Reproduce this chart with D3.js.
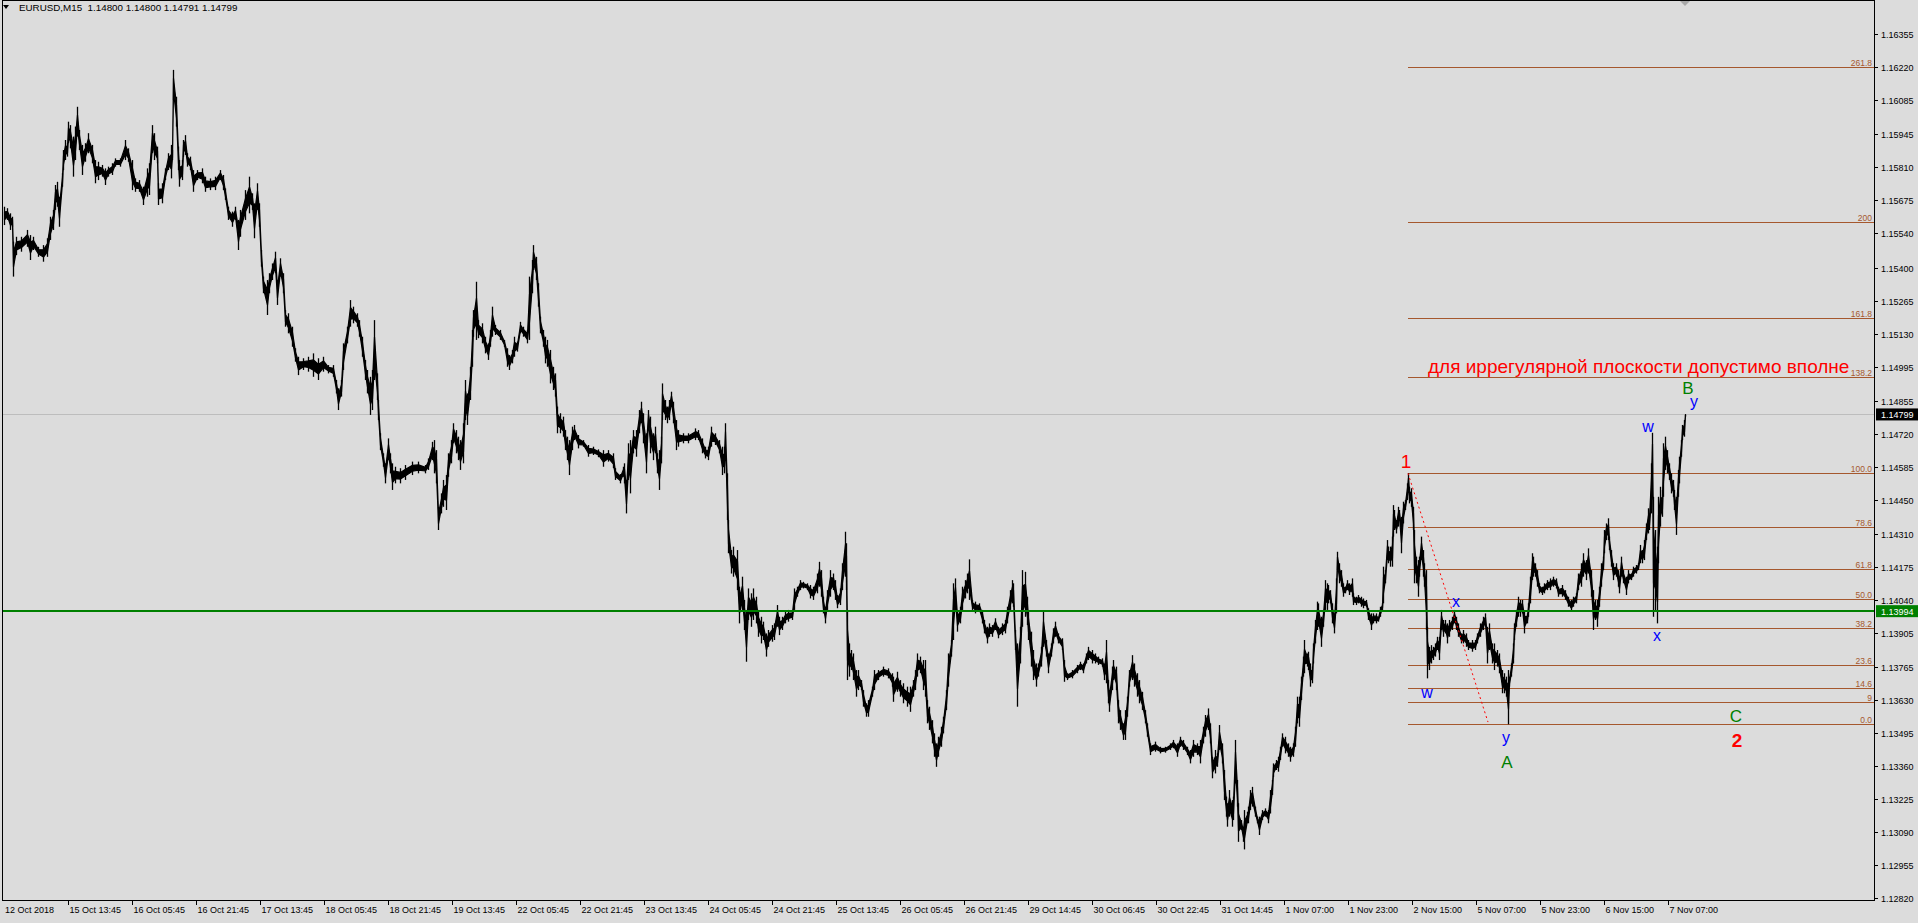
<!DOCTYPE html>
<html><head><meta charset="utf-8">
<script src="https://cdn.jsdelivr.net/npm/d3@7/dist/d3.min.js"></script>
<style>html,body{margin:0;padding:0;background:#DCDCDC;overflow:hidden}svg{display:block}text{font-family:"Liberation Sans",Arial,sans-serif}</style>
</head><body>
<svg id="c" width="1918" height="923"></svg>
<script>
// ---- data (EURUSD M15, sampled bars: bar index, high, low) ----
const barIndex=[0,3,6,8,9,12,17,23,26,29,34,39,43,46,49,51,53,55,58,59,61,63,64,66,69,71,73,75,78,81,84,88,91,94,98,101,104,108,111,116,121,124,128,131,135,139,143,145,148,150,153,154,158,161,164,167,168,169,172,174,175,178,179,181,183,186,189,193,198,201,206,211,216,219,221,224,228,231,234,236,241,245,248,250,253,255,257,259,263,265,268,271,273,276,279,281,284,288,291,294,299,304,309,314,319,324,329,332,334,337,339,343,346,349,353,355,358,361,363,366,368,370,373,374,376,379,381,384,386,388,391,396,401,408,414,421,424,428,430,432,434,437,439,442,444,447,449,452,454,456,459,461,463,466,468,469,472,474,478,481,484,486,488,491,496,500,503,505,508,510,513,516,519,523,525,528,529,532,534,536,539,541,543,546,549,551,553,556,559,561,563,565,568,570,574,579,584,589,594,599,604,609,611,616,619,620,622,624,626,629,632,635,637,639,642,644,646,649,651,653,655,657,658,661,663,665,667,669,672,674,679,684,691,694,698,701,704,707,711,715,718,720,721,723,724,727,729,733,735,738,740,742,744,747,749,752,754,757,759,762,764,768,770,773,775,778,781,784,788,790,793,796,799,803,806,809,813,815,817,819,821,823,826,829,831,833,836,838,841,842,843,845,847,849,852,854,857,859,862,864,868,870,874,879,884,888,889,893,896,899,903,906,909,911,913,916,919,921,923,925,928,930,932,934,937,939,942,944,947,949,951,953,956,958,961,963,965,968,971,975,978,980,983,985,988,991,994,998,1001,1003,1006,1008,1009,1011,1013,1016,1018,1021,1023,1024,1027,1029,1032,1034,1037,1039,1042,1044,1047,1049,1051,1054,1058,1060,1063,1068,1073,1076,1079,1082,1084,1088,1091,1094,1098,1100,1102,1104,1105,1108,1109,1112,1114,1116,1119,1121,1123,1125,1128,1130,1133,1135,1138,1141,1143,1146,1151,1156,1161,1166,1169,1173,1176,1179,1183,1186,1189,1193,1196,1199,1201,1204,1206,1208,1211,1213,1215,1218,1220,1222,1223,1225,1228,1229,1231,1233,1234,1237,1239,1240,1243,1244,1246,1248,1251,1253,1255,1258,1261,1264,1266,1268,1269,1272,1274,1276,1278,1281,1284,1286,1289,1291,1293,1295,1297,1299,1300,1303,1304,1306,1308,1309,1311,1313,1314,1317,1319,1321,1323,1324,1326,1328,1330,1332,1333,1335,1337,1339,1341,1343,1345,1348,1349,1352,1354,1357,1359,1362,1364,1367,1369,1372,1374,1376,1378,1379,1381,1383,1384,1386,1388,1389,1390,1392,1394,1395,1397,1399,1401,1403,1404,1405,1407,1409,1410,1412,1414,1415,1417,1419,1420,1422,1423,1425,1427,1429,1431,1433,1435,1437,1439,1441,1443,1445,1448,1450,1452,1454,1457,1459,1462,1464,1468,1471,1473,1476,1479,1481,1483,1485,1488,1490,1493,1495,1498,1500,1502,1504,1505,1507,1509,1510,1512,1514,1516,1518,1520,1523,1524,1526,1528,1529,1531,1533,1535,1538,1540,1543,1546,1549,1552,1554,1558,1561,1564,1567,1569,1572,1574,1577,1579,1582,1584,1587,1589,1591,1593,1595,1597,1599,1600,1602,1604,1605,1607,1609,1612,1614,1615,1617,1619,1622,1624,1627,1629,1632,1634,1636,1638,1640,1642,1644,1645,1647,1648,1649,1651,1653,1654,1656,1658,1659,1661,1663,1665,1667,1669,1670,1672,1674,1675,1677,1678,1680,1681];
const barHigh=[1.15649,1.15643,1.15622,1.15608,1.15506,1.15526,1.15526,1.15554,1.15533,1.15526,1.15485,1.15492,1.15520,1.15608,1.15636,1.15738,1.15751,1.15690,1.15786,1.15881,1.15922,1.15909,1.15997,1.15983,1.15936,1.15977,1.16058,1.15963,1.15902,1.15909,1.15950,1.15902,1.15840,1.15833,1.15820,1.15806,1.15813,1.15827,1.15847,1.15847,1.15922,1.15888,1.15840,1.15765,1.15758,1.15731,1.15806,1.15827,1.15983,1.15950,1.15895,1.15745,1.15745,1.15806,1.15868,1.15902,1.15881,1.16209,1.16099,1.15895,1.15840,1.15840,1.15922,1.15942,1.15868,1.15854,1.15799,1.15799,1.15806,1.15772,1.15765,1.15772,1.15799,1.15779,1.15724,1.15649,1.15629,1.15649,1.15595,1.15636,1.15717,1.15772,1.15704,1.15663,1.15745,1.15663,1.15472,1.15363,1.15349,1.15377,1.15417,1.15465,1.15349,1.15438,1.15377,1.15226,1.15213,1.15158,1.15070,1.15035,1.15029,1.15035,1.15049,1.15029,1.15035,1.15001,1.15001,1.14940,1.14906,1.14940,1.15090,1.15158,1.15267,1.15240,1.15213,1.15185,1.15117,1.15022,1.14981,1.14953,1.14981,1.15185,1.14967,1.14858,1.14722,1.14640,1.14599,1.14701,1.14640,1.14599,1.14585,1.14579,1.14592,1.14606,1.14606,1.14592,1.14619,1.14687,1.14694,1.14653,1.14421,1.14476,1.14531,1.14551,1.14640,1.14694,1.14763,1.14735,1.14708,1.14694,1.14763,1.14940,1.14885,1.14994,1.15145,1.15226,1.15342,1.15185,1.15172,1.15117,1.15090,1.15145,1.15240,1.15165,1.15145,1.15104,1.15070,1.15042,1.15063,1.15117,1.15097,1.15178,1.15158,1.15145,1.15363,1.15431,1.15492,1.15444,1.15336,1.15199,1.15145,1.15117,1.15104,1.15063,1.14994,1.14967,1.14831,1.14804,1.14790,1.14735,1.14708,1.14694,1.14749,1.14756,1.14715,1.14694,1.14674,1.14667,1.14656,1.14653,1.14653,1.14640,1.14579,1.14555,1.14585,1.14599,1.14531,1.14681,1.14694,1.14735,1.14735,1.14817,1.14851,1.14804,1.14722,1.14817,1.14790,1.14722,1.14749,1.14640,1.14653,1.14708,1.14926,1.14858,1.14831,1.14858,1.14892,1.14851,1.14776,1.14735,1.14722,1.14722,1.14742,1.14735,1.14701,1.14667,1.14667,1.14749,1.14722,1.14694,1.14667,1.14667,1.14763,1.14558,1.14367,1.14244,1.14258,1.14244,1.14094,1.14135,1.14040,1.13999,1.14087,1.14067,1.14087,1.14053,1.13999,1.13971,1.13951,1.13903,1.13917,1.13937,1.13944,1.14019,1.13971,1.13971,1.13992,1.13999,1.13999,1.14087,1.14094,1.14121,1.14114,1.14108,1.14101,1.14094,1.14148,1.14196,1.14162,1.14053,1.14012,1.14080,1.14162,1.14148,1.14121,1.14060,1.14087,1.14190,1.14319,1.14272,1.13999,1.13862,1.13835,1.13821,1.13753,1.13753,1.13712,1.13671,1.13617,1.13630,1.13685,1.13753,1.13753,1.13767,1.13760,1.13740,1.13726,1.13746,1.13712,1.13699,1.13685,1.13685,1.13712,1.13753,1.13821,1.13808,1.13794,1.13794,1.13630,1.13603,1.13548,1.13494,1.13453,1.13480,1.13521,1.13562,1.13671,1.13821,1.13876,1.14108,1.14128,1.13999,1.14012,1.14094,1.14121,1.14148,1.14206,1.14040,1.14033,1.14026,1.13999,1.13958,1.13930,1.13944,1.13937,1.13965,1.13930,1.13944,1.13958,1.14012,1.14080,1.14121,1.14108,1.13917,1.13862,1.13930,1.14162,1.14155,1.14053,1.13999,1.13910,1.13835,1.13780,1.13780,1.13848,1.13992,1.13876,1.13821,1.13862,1.13924,1.13951,1.13903,1.13883,1.13794,1.13740,1.13753,1.13774,1.13787,1.13780,1.13821,1.13848,1.13835,1.13821,1.13808,1.13801,1.13780,1.13876,1.13712,1.13671,1.13767,1.13794,1.13767,1.13630,1.13589,1.13535,1.13589,1.13644,1.13753,1.13814,1.13780,1.13740,1.13712,1.13664,1.13589,1.13535,1.13453,1.13460,1.13439,1.13439,1.13453,1.13467,1.13453,1.13480,1.13467,1.13439,1.13426,1.13467,1.13453,1.13467,1.13521,1.13569,1.13596,1.13535,1.13398,1.13426,1.13412,1.13528,1.13453,1.13344,1.13235,1.13208,1.13262,1.13221,1.13235,1.13467,1.13303,1.13208,1.13139,1.13112,1.13180,1.13173,1.13194,1.13262,1.13275,1.13194,1.13153,1.13153,1.13180,1.13187,1.13180,1.13262,1.13303,1.13371,1.13385,1.13398,1.13439,1.13494,1.13480,1.13453,1.13439,1.13453,1.13521,1.13644,1.13644,1.13726,1.13808,1.13876,1.13821,1.13828,1.13780,1.13767,1.13862,1.13958,1.14033,1.14026,1.13971,1.13999,1.14121,1.14108,1.14101,1.14080,1.14026,1.13985,1.14128,1.14237,1.14190,1.14162,1.14108,1.14094,1.14121,1.14108,1.14128,1.14067,1.14053,1.14060,1.14053,1.14046,1.14040,1.14006,1.13985,1.13985,1.13985,1.13971,1.14012,1.14026,1.14176,1.14162,1.14285,1.14258,1.14258,1.14299,1.14428,1.14408,1.14367,1.14421,1.14408,1.14380,1.14442,1.14449,1.14517,1.14558,1.14503,1.14497,1.14421,1.14326,1.14217,1.14203,1.14217,1.14299,1.14244,1.14190,1.14162,1.13930,1.13848,1.13855,1.13848,1.13862,1.13889,1.13889,1.13999,1.13958,1.13958,1.13944,1.13958,1.13971,1.13999,1.13971,1.13944,1.13903,1.13917,1.13903,1.13876,1.13876,1.13876,1.13903,1.13944,1.13971,1.13985,1.13930,1.13944,1.13862,1.13862,1.13835,1.13821,1.13753,1.13740,1.13726,1.13753,1.13726,1.13780,1.13862,1.13944,1.13999,1.14053,1.14040,1.14040,1.13999,1.13985,1.14026,1.14135,1.14231,1.14217,1.14190,1.14162,1.14108,1.14094,1.14108,1.14121,1.14128,1.14135,1.14128,1.14094,1.14101,1.14080,1.14053,1.14040,1.14053,1.14067,1.14148,1.14190,1.14231,1.14203,1.14251,1.14162,1.14080,1.14040,1.14040,1.14094,1.14190,1.14217,1.14326,1.14353,1.14374,1.14299,1.14244,1.14190,1.14190,1.14162,1.14135,1.14217,1.14162,1.14135,1.14162,1.14148,1.14176,1.14183,1.14190,1.14265,1.14244,1.14285,1.14353,1.14415,1.14394,1.14599,1.14724,1.14462,1.14326,1.14258,1.14462,1.14503,1.14490,1.14681,1.14708,1.14653,1.14599,1.14558,1.14531,1.14490,1.14462,1.14572,1.14626,1.14694,1.14756,1.14776,1.14800];
const barLow=[1.15574,1.15595,1.15554,1.15567,1.15363,1.15451,1.15465,1.15485,1.15431,1.15472,1.15444,1.15424,1.15444,1.15513,1.15554,1.15636,1.15649,1.15567,1.15731,1.15799,1.15840,1.15854,1.15909,1.15888,1.15772,1.15840,1.15936,1.15881,1.15779,1.15833,1.15868,1.15827,1.15745,1.15758,1.15772,1.15738,1.15772,1.15779,1.15813,1.15813,1.15840,1.15833,1.15717,1.15710,1.15710,1.15656,1.15690,1.15697,1.15868,1.15840,1.15827,1.15656,1.15663,1.15758,1.15799,1.15765,1.15840,1.16086,1.15977,1.15799,1.15731,1.15758,1.15854,1.15861,1.15813,1.15799,1.15710,1.15758,1.15745,1.15710,1.15717,1.15717,1.15758,1.15717,1.15677,1.15595,1.15567,1.15595,1.15472,1.15526,1.15595,1.15622,1.15636,1.15520,1.15636,1.15567,1.15404,1.15295,1.15206,1.15295,1.15349,1.15377,1.15247,1.15363,1.15295,1.15158,1.15131,1.15076,1.15015,1.14960,1.14981,1.14974,1.14953,1.14940,1.14974,1.14967,1.14953,1.14885,1.14817,1.14872,1.14981,1.15090,1.15158,1.15172,1.15158,1.15117,1.15035,1.14940,1.14885,1.14797,1.14817,1.14940,1.14858,1.14776,1.14653,1.14585,1.14517,1.14612,1.14558,1.14490,1.14517,1.14517,1.14531,1.14551,1.14558,1.14558,1.14572,1.14612,1.14558,1.14517,1.14326,1.14394,1.14421,1.14408,1.14544,1.14599,1.14681,1.14640,1.14612,1.14572,1.14599,1.14776,1.14756,1.14858,1.14994,1.15117,1.15104,1.15111,1.15090,1.15049,1.15022,1.15076,1.15117,1.15124,1.15104,1.15076,1.14994,1.14981,1.15008,1.15035,1.15056,1.15131,1.15117,1.15090,1.15104,1.15295,1.15390,1.15349,1.15240,1.15131,1.15076,1.15008,1.14994,1.14926,1.14899,1.14872,1.14722,1.14722,1.14708,1.14653,1.14612,1.14551,1.14653,1.14694,1.14660,1.14667,1.14626,1.14633,1.14624,1.14585,1.14606,1.14579,1.14531,1.14517,1.14544,1.14517,1.14394,1.14531,1.14476,1.14640,1.14626,1.14722,1.14763,1.14681,1.14558,1.14749,1.14640,1.14612,1.14640,1.14558,1.14490,1.14599,1.14776,1.14776,1.14763,1.14776,1.14831,1.14763,1.14653,1.14667,1.14681,1.14681,1.14694,1.14694,1.14640,1.14619,1.14612,1.14667,1.14674,1.14640,1.14551,1.14558,1.14640,1.14367,1.14231,1.14148,1.14135,1.14080,1.13944,1.13999,1.13917,1.13787,1.13958,1.13930,1.13958,1.13944,1.13889,1.13862,1.13876,1.13808,1.13848,1.13869,1.13876,1.13930,1.13896,1.13917,1.13944,1.13951,1.13958,1.13999,1.14053,1.14080,1.14087,1.14080,1.14046,1.14040,1.14067,1.14094,1.14053,1.13985,1.13944,1.13999,1.14053,1.14080,1.14040,1.14006,1.14019,1.14080,1.14135,1.14080,1.13712,1.13726,1.13753,1.13712,1.13644,1.13671,1.13671,1.13603,1.13562,1.13562,1.13644,1.13671,1.13712,1.13726,1.13719,1.13685,1.13623,1.13664,1.13644,1.13617,1.13603,1.13582,1.13644,1.13671,1.13726,1.13740,1.13671,1.13644,1.13535,1.13508,1.13453,1.13398,1.13357,1.13398,1.13439,1.13494,1.13589,1.13685,1.13808,1.13876,1.13999,1.13910,1.13944,1.13999,1.14046,1.14067,1.14040,1.13999,1.13985,1.13992,1.13944,1.13903,1.13862,1.13889,1.13889,1.13917,1.13883,1.13896,1.13903,1.13944,1.13999,1.14026,1.14012,1.13835,1.13603,1.13780,1.13930,1.13971,1.13937,1.13876,1.13767,1.13712,1.13685,1.13726,1.13767,1.13848,1.13808,1.13740,1.13808,1.13862,1.13889,1.13862,1.13835,1.13705,1.13712,1.13719,1.13740,1.13753,1.13740,1.13780,1.13794,1.13780,1.13780,1.13774,1.13767,1.13712,1.13699,1.13617,1.13582,1.13671,1.13712,1.13671,1.13535,1.13508,1.13467,1.13467,1.13562,1.13685,1.13712,1.13685,1.13644,1.13617,1.13589,1.13535,1.13480,1.13405,1.13419,1.13412,1.13415,1.13426,1.13433,1.13398,1.13439,1.13426,1.13405,1.13371,1.13398,1.13405,1.13371,1.13453,1.13480,1.13508,1.13453,1.13310,1.13330,1.13357,1.13426,1.13371,1.13221,1.13153,1.13112,1.13153,1.13112,1.13139,1.13289,1.13194,1.13050,1.13098,1.13050,1.13019,1.13126,1.13126,1.13180,1.13194,1.13153,1.13126,1.13078,1.13139,1.13153,1.13126,1.13166,1.13242,1.13316,1.13344,1.13337,1.13385,1.13439,1.13412,1.13398,1.13378,1.13398,1.13439,1.13535,1.13521,1.13630,1.13726,1.13740,1.13767,1.13753,1.13685,1.13699,1.13780,1.13862,1.13917,1.13930,1.13848,1.13930,1.13999,1.13999,1.14026,1.14026,1.13944,1.13903,1.13985,1.14162,1.14108,1.14094,1.14053,1.14067,1.14080,1.14060,1.14053,1.14019,1.14019,1.14026,1.14012,1.14006,1.14012,1.13958,1.13917,1.13944,1.13944,1.13951,1.13971,1.13999,1.14026,1.14108,1.14203,1.14190,1.14176,1.14176,1.14299,1.14326,1.14312,1.14340,1.14367,1.14231,1.14353,1.14408,1.14449,1.14490,1.14435,1.14421,1.14326,1.14108,1.14108,1.14053,1.14135,1.14203,1.14135,1.14094,1.13917,1.13719,1.13753,1.13780,1.13794,1.13808,1.13835,1.13794,1.13917,1.13889,1.13903,1.13862,1.13889,1.13917,1.13944,1.13917,1.13889,1.13862,1.13862,1.13848,1.13835,1.13828,1.13835,1.13862,1.13889,1.13917,1.13930,1.13780,1.13835,1.13780,1.13753,1.13767,1.13740,1.13658,1.13658,1.13644,1.13531,1.13685,1.13726,1.13780,1.13876,1.13930,1.13971,1.13971,1.13985,1.13903,1.13944,1.13971,1.14026,1.14121,1.14135,1.14135,1.14094,1.14067,1.14060,1.14067,1.14080,1.14080,1.14094,1.14087,1.14053,1.14053,1.14040,1.14012,1.13992,1.14012,1.14026,1.14080,1.14094,1.14135,1.14121,1.14148,1.14053,1.13917,1.13958,1.13930,1.14012,1.14094,1.14162,1.14231,1.14285,1.14285,1.14244,1.14176,1.14121,1.14135,1.14094,1.14067,1.14135,1.14108,1.14060,1.14108,1.14121,1.14135,1.14148,1.14162,1.14190,1.14190,1.14203,1.14285,1.14312,1.14326,1.14394,1.14558,1.13971,1.13992,1.13944,1.14190,1.14340,1.14380,1.14462,1.14572,1.14558,1.14531,1.14476,1.14462,1.14408,1.14306,1.14462,1.14517,1.14626,1.14694,1.14708,1.14791];

const priceTicks=[1.16355,1.16220,1.16085,1.15945,1.15810,1.15675,1.15540,1.15400,1.15265,1.15130,1.14995,1.14855,1.14720,1.14585,1.14450,1.14310,1.14175,1.14040,1.13905,1.13765,1.13630,1.13495,1.13360,1.13225,1.13090,1.12955,1.12820];
const timeLabels=["12 Oct 2018","15 Oct 13:45","16 Oct 05:45","16 Oct 21:45","17 Oct 13:45","18 Oct 05:45","18 Oct 21:45","19 Oct 13:45","22 Oct 05:45","22 Oct 21:45","23 Oct 13:45","24 Oct 05:45","24 Oct 21:45","25 Oct 13:45","26 Oct 05:45","26 Oct 21:45","29 Oct 14:45","30 Oct 06:45","30 Oct 22:45","31 Oct 14:45","1 Nov 07:00","1 Nov 23:00","2 Nov 15:00","5 Nov 07:00","5 Nov 23:00","6 Nov 15:00","7 Nov 07:00"];
const timeLabelStep=64; // bars between time labels
const titleText="EURUSD,M15  1.14800 1.14800 1.14791 1.14799";
const bidPrice=1.14799;
const hLinePrice=1.13994;
const fibLow=1.13531, fibHigh=1.14558, fibStartBar=1404;
const fibLevels=[0,9,14.6,23.6,38.2,50,61.8,78.6,100,138.2,161.8,200,261.8];
const fibLabels=["0.0","9","14.6","23.6","38.2","50.0","61.8","78.6","100.0","138.2","161.8","200","261.8"];
const trendBars=[1404,1484], trendPrices=[1.14558,1.13540];
const waveText=["1","2","A","C","B","y","w","w","x","y","x"];
const waveBar=[1402,1733,1503,1732,1684,1690,1644,1423,1452,1502,1653];
const wavePrice=[1.14578,1.13439,1.13351,1.13541,1.14882,1.14829,1.14728,1.13637,1.14012,1.13453,1.13873];
const waveColor=["red","red","green","green","green","blue","blue","blue","blue","blue","blue"];
const noteText="для иррегулярной плоскости допустимо вполне";
const noteBar=1424, notePrice=1.14968;

// ---- layout ----
const W=1918,H=923, L=2, R=1874, T=0, B=900;
const svg=d3.select("#c");
const x=d3.scaleLinear().domain([0,1870]).range([4,1874]);
const y=d3.scaleLinear().domain([1.12812,1.16495]).range([B,T]);
const fibCol="#A5582E";

svg.append("rect").attr("width",W).attr("height",H).attr("fill","#DCDCDC");

// fib lines
const fibG=svg.append("g");
fibLevels.forEach((lv,k)=>{
  const p=fibLow+lv/100*(fibHigh-fibLow);
  const yy=Math.round(y(p))+0.5;
  fibG.append("line").attr("x1",x(fibStartBar)).attr("x2",R).attr("y1",yy).attr("y2",yy)
    .attr("stroke",fibCol).attr("stroke-width",1);
  fibG.append("text").attr("x",R-2).attr("y",yy-2).attr("text-anchor","end")
    .attr("font-size","8.5px").attr("fill",fibCol).text(fibLabels[k]);
});

// bid line
svg.append("line").attr("x1",L).attr("x2",R).attr("y1",Math.round(y(bidPrice))+0.5).attr("y2",Math.round(y(bidPrice))+0.5)
  .attr("stroke","#BDBDBD").attr("stroke-width",1);

// price bars: thin core band plus full high-low bar at every sampled bar
const bars=barIndex.map((b,k)=>({i:b,hi:barHigh[k],lo:barLow[k]}));
const core=d3.area().x(d=>x(d.i)+0.5)
  .y0(d=>{const a=y(d.lo),b=y(d.hi);return Math.max(b+1,a-(a-b)*0.28);})
  .y1(d=>{const a=y(d.lo),b=y(d.hi);return Math.min(a-1,b+(a-b)*0.28);});
svg.append("path").datum(bars).attr("d",core).attr("fill","#000").attr("stroke","#000").attr("stroke-width",1.2).attr("stroke-linejoin","round");
svg.append("g").selectAll("line").data(bars).join("line")
  .attr("x1",d=>x(d.i)+0.5).attr("x2",d=>x(d.i)+0.5)
  .attr("y1",d=>y(d.hi)).attr("y2",d=>y(d.lo))
  .attr("stroke","#000").attr("stroke-width",1.3);

// green horizontal line
const gy=Math.round(y(hLinePrice));
svg.append("line").attr("x1",L).attr("x2",R).attr("y1",gy).attr("y2",gy).attr("stroke","#008000").attr("stroke-width",2);

// red dotted trendline
svg.append("line").attr("x1",x(trendBars[0])).attr("y1",y(trendPrices[0])).attr("x2",x(trendBars[1])).attr("y2",y(trendPrices[1]))
  .attr("stroke","#FF0000").attr("stroke-width",1).attr("stroke-dasharray","2,3");

// wave labels
waveText.forEach((t,k)=>{
  const c=waveColor[k];
  const fs=c==="red"?19:(c==="green"?17:16);
  svg.append("text").attr("x",x(waveBar[k])).attr("y",y(wavePrice[k])).attr("text-anchor","middle")
    .attr("font-size",fs+"px").attr("font-weight",t==="2"?"bold":"normal")
    .attr("fill",c==="red"?"#FF0000":(c==="green"?"#008000":"#0000FF")).text(t);
});
svg.append("text").attr("x",x(noteBar)).attr("y",y(notePrice)).attr("font-size","19px").attr("fill","#FF0000").text(noteText);

// frame
const fr=svg.append("g").attr("stroke","#000").attr("stroke-width",1).attr("shape-rendering","crispEdges");
fr.append("line").attr("x1",L+0.5).attr("x2",L+0.5).attr("y1",0).attr("y2",B+1);
fr.append("line").attr("x1",L).attr("x2",R+1).attr("y1",0.5).attr("y2",0.5);
fr.append("line").attr("x1",R+0.5).attr("x2",R+0.5).attr("y1",0).attr("y2",B+1);
fr.append("line").attr("x1",L).attr("x2",R+1).attr("y1",B+0.5).attr("y2",B+0.5);

// price axis
const ax=svg.append("g");
priceTicks.forEach(p=>{
  const yy=Math.round(y(p))+0.5;
  ax.append("line").attr("x1",R).attr("x2",R+4).attr("y1",yy).attr("y2",yy).attr("stroke","#000");
  ax.append("text").attr("x",R+7).attr("y",yy+3.5).attr("font-size","9px").attr("fill","#000").text(p.toFixed(5));
});
[[bidPrice,"#000"],[hLinePrice,"#008000"]].forEach(([p,col])=>{
  const yy=y(p);
  ax.append("rect").attr("x",R+2).attr("y",yy-6).attr("width",W-R-2).attr("height",12).attr("fill",col);
  ax.append("text").attr("x",R+7).attr("y",yy+3.5).attr("font-size","9px").attr("fill","#fff").text(p.toFixed(5));
});

// time axis
const tx=svg.append("g");
timeLabels.forEach((t,k)=>{
  const xx=Math.round(x(k*timeLabelStep))+0.5;
  if(k>0) tx.append("line").attr("x1",xx).attr("x2",xx).attr("y1",B).attr("y2",B+5).attr("stroke","#000");
  tx.append("text").attr("x",k>0?xx+1:5).attr("y",913).attr("font-size","9px").attr("fill","#000").text(t);
});

// title
svg.append("path").attr("d","M3,5 L9,5 L6,9 Z").attr("fill","#000");
svg.append("text").attr("x",19).attr("y",11).attr("font-size","9.8px").attr("fill","#000").attr("xml:space","preserve").style("white-space","pre").text(titleText);
// chart shift marker
svg.append("path").attr("d","M1680,1 L1690,1 L1685,6 Z").attr("fill","#A8A8A8");
</script>
</body></html>
